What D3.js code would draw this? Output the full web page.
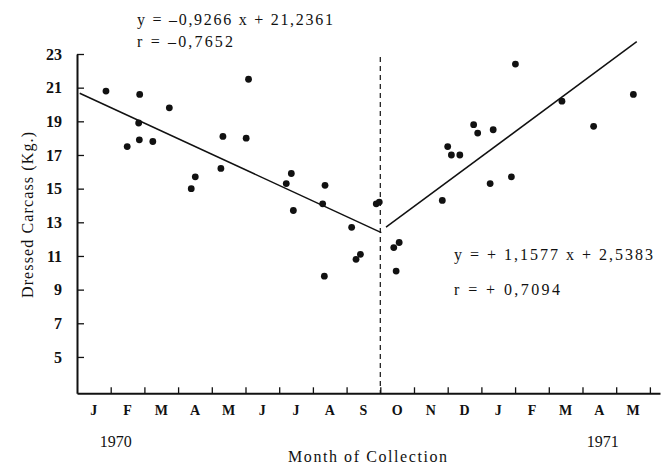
<!DOCTYPE html>
<html>
<head>
<meta charset="utf-8">
<script src="https://cdn.jsdelivr.net/npm/d3@7"></script>
<style>
  body { margin: 0; background: #fff; }
  svg { display: block; }
  text { font-family: "Liberation Serif", "DejaVu Serif", serif; fill: #111; }
</style>
</head>
<body>
<svg id="chart" width="667" height="466"></svg>
<script>
// months along the axis, Jan 1970 .. May 1971
const months = ["J", "F", "M", "A", "M", "J", "J", "A", "S", "O", "N", "D", "J", "F", "M", "A", "M"];
const yTicks = [5, 7, 9, 11, 13, 15, 17, 19, 21, 23];
const years = ["1970", "1971"];
const yearMonth = [1.15, 15.6];

// sample time (months since 1 Jan 1970) and dressed carcass weight (kg)
const sampleMonth = [0.86, 1.49, 1.86, 1.83, 1.85, 2.25, 2.74, 3.39, 3.51, 4.27,
                     4.33, 5.09, 5.02, 6.21, 6.36, 6.42, 7.29, 7.36, 7.34, 8.15,
                     8.28, 8.41, 8.88, 8.97, 9.40, 9.56, 9.47, 10.84, 11.00, 11.11,
                     11.36, 11.77, 11.89, 12.35, 12.26, 12.89, 13.01, 14.39, 15.33, 16.51];
const carcassKg = [20.8, 17.5, 20.6, 18.9, 17.9, 17.8, 19.8, 15.0, 15.7, 16.2,
                   18.1, 21.5, 18.0, 15.3, 15.9, 13.7, 14.1, 15.2, 9.8, 12.7,
                   10.8, 11.1, 14.1, 14.2, 11.5, 11.8, 10.1, 14.3, 17.5, 17.0,
                   17.0, 18.8, 18.3, 18.5, 15.3, 15.7, 22.4, 20.2, 18.7, 20.6];

// regression lines as drawn (endpoints in months / kg)
const leftFitMonth = [0.08, 9.03];
const leftFitKg = [20.67, 12.39];
const rightFitMonth = [9.17, 16.61];
const rightFitKg = [12.71, 23.73];
const splitMonth = 9; // start of October

const leftEq = ["y = \u20130,9266 x + 21,2361", "r = \u20130,7652"];
const rightEq = ["y = + 1,1577 x + 2,5383", "r = + 0,7094"];

const svg = d3.select("#chart");

const x = d3.scaleLinear().domain([0, 17.3]).range([77, 660]);
const y = d3.scaleLinear().domain([2.84, 23]).range([393.3, 54]);

// y axis, ticks pointing inward
const yAxis = d3.axisLeft(y)
    .tickValues(yTicks)
    .tickSizeInner(-7)
    .tickSizeOuter(0)
    .tickPadding(15);

const gy = svg.append("g")
    .attr("transform", `translate(${x(0)},0)`)
    .call(yAxis);
gy.select(".domain").attr("stroke", "#111").attr("stroke-width", 2);
gy.selectAll(".tick line").attr("stroke", "#111").attr("stroke-width", 1.3);
gy.selectAll(".tick text")
    .style("font-family", "Liberation Serif")
    .style("font-size", "16px")
    .style("font-weight", "bold")
    .attr("fill", "#111");

// x axis, month boundaries as ticks
const xAxis = d3.axisBottom(x)
    .tickValues(d3.range(1, months.length + 1))
    .tickSizeInner(-6)
    .tickSizeOuter(0)
    .tickFormat("");

const gx = svg.append("g")
    .attr("transform", `translate(0,${y(2.84)})`)
    .call(xAxis);
gx.select(".domain").attr("stroke", "#111").attr("stroke-width", 2);
gx.selectAll(".tick line").attr("stroke", "#111").attr("stroke-width", 1.3);

svg.append("g").selectAll("text")
    .data(months)
    .join("text")
    .attr("x", (d, i) => x(i + 0.5))
    .attr("y", 415)
    .attr("text-anchor", "middle")
    .style("font-size", "14px")
    .style("font-weight", "bold")
    .text(d => d);

svg.append("g").selectAll("text")
    .data(years)
    .join("text")
    .attr("x", (d, i) => x(yearMonth[i]))
    .attr("y", 447)
    .attr("text-anchor", "middle")
    .style("font-size", "16px")
    .text(d => d);

svg.append("text")
    .attr("x", 288)
    .attr("y", 462)
    .attr("textLength", 159)
    .attr("lengthAdjust", "spacing")
    .style("font-size", "16px")
    .text("Month of Collection");

svg.append("text")
    .attr("transform", "translate(33,298) rotate(-90)")
    .attr("textLength", 166)
    .attr("lengthAdjust", "spacing")
    .style("font-size", "16px")
    .text("Dressed Carcass (Kg.)");

// dashed divider between the two periods
svg.append("line")
    .attr("x1", x(splitMonth)).attr("x2", x(splitMonth))
    .attr("y1", 57).attr("y2", y(2.84))
    .attr("stroke", "#111")
    .attr("stroke-width", 1.2)
    .attr("stroke-dasharray", "5,4");

// regression lines
const line = d3.line().x(d => x(d[0])).y(d => y(d[1]));
svg.append("path")
    .attr("d", line(d3.zip(leftFitMonth, leftFitKg)))
    .attr("fill", "none").attr("stroke", "#111").attr("stroke-width", 1.5);
svg.append("path")
    .attr("d", line(d3.zip(rightFitMonth, rightFitKg)))
    .attr("fill", "none").attr("stroke", "#111").attr("stroke-width", 1.5);

// samples
svg.append("g").selectAll("circle")
    .data(d3.zip(sampleMonth, carcassKg))
    .join("circle")
    .attr("cx", d => x(d[0]))
    .attr("cy", d => y(d[1]))
    .attr("r", 3.4)
    .attr("fill", "#111");

// equations
function equation(lines, x0, ys, widths) {
    lines.forEach((t, i) => {
        svg.append("text")
            .attr("x", x0)
            .attr("y", ys[i])
            .attr("textLength", widths[i])
            .attr("lengthAdjust", "spacing")
            .style("font-size", "16px")
            .text(t);
    });
}
equation(leftEq, 137, [25, 47], [196, 96]);
equation(rightEq, 454, [260, 295], [199, 106]);
</script>
</body>
</html>
